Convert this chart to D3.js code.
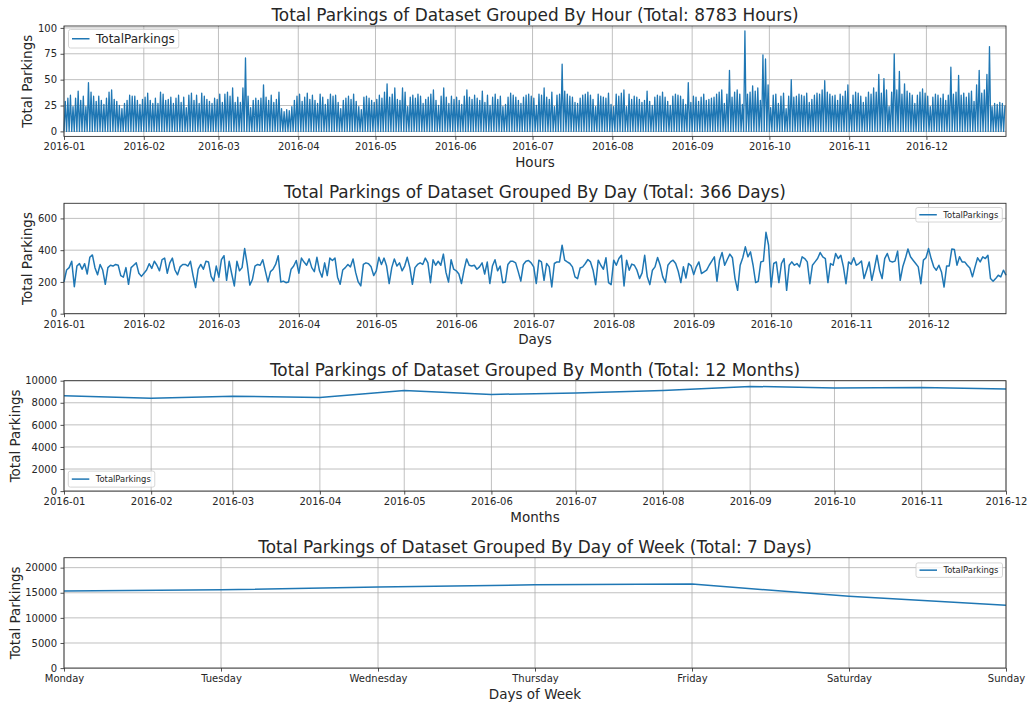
<!DOCTYPE html>
<html>
<head>
<meta charset="utf-8">
<script src="https://cdn.jsdelivr.net/npm/d3@7"></script>
<style>
  body { margin: 0; background: #fff; }
  svg { display: block; font-family: "DejaVu Sans", sans-serif; }
</style>
</head>
<body>
<svg id="chart" width="1028" height="704"></svg>
<script>
// Peak hourly count of each day (the hourly trace drops to ~0 every night)
const hourPeaks = [
  29,32,35,24,32,39,30,34,24,47, 38,34,29,34,30,26,32,38,40,31,
  29,25,22,27,30,35,34,34,30, 26,31,33,37,30,27,32,27,38,36,
  30,31,33,27,32,35,28,33,23,35, 37,30,35,27,37,34,31,29,27,32,
  31,36,28,36,38,34,42,28,33,28, 42,71,34,23,30,32,30,32, 45,
  33,30,35,28,31,38,22,19,21,20,24,30,
  34,36,29,33,37,31,35,30,27,36, 33,26,31,36,34,35,28,22,30,32, 34,31,36,29,24,21,33,34,32,30,
  28,31,35,32,38,46,33,36,42,31, 30,42,38,24,33,35,32,36,34,27, 31,33,36,40,30,25,34,42,33,27,
  34,31,33,30,26,34,40,33,31,35, 32,30,39,28,35,25,33,36,31,34, 24,26,33,37,35,33,30,27,33,35,
  36,34,32,25,36,35,42,33,31,38, 24,35,36,65,39,36,34,33,28,27, 32,35,36,38,35,31,24,36,34,33,
  32,37,26,24,36,34,37,40,24,36, 31,34,33,31,28,30,39,29,25,33, 35,34,38,33,29,25,34,36,35,34,
  31,26,47,28,34,33,29,33,36,30, 31,32,33,36,38,40,27,36,59,33, 38,40,36,26,97,36,38,44,39,42,
  30,74,70,45,23,35,36,27,34,37, 22,34,50,33,34,36,35,34,37,28, 31,35,37,36,40,49,38,36,34,35,
  30,36,34,39,45,26,35,38,37,34, 28,33,38,36,42,38,55,37,51,40, 24,38,75,40,58,36,46,39,37,35,
  27,35,38,41,37,34,24,33,36,35, 32,36,30,35,62,36,38,54,35,37, 33,37,39,29,45,59,37,40,55,82,
  24,27,26,28,27,25
];

// Total parkings per day, 2016-01-01 .. 2016-12-31
const dayTotals = [
  200,275,290,330,170,300,315,280,315,250, 355,370,290,245,310,275,185,290,305,300,
  310,305,240,230,290,185,290,305,320,255, 235,255,275,315,285,330,305,270,340,350,
  255,320,350,275,245,295,310,310,300,330, 240,165,280,310,280,330,325,235,205,300,
  230,340,365,210,330,250,175,330,270,290, 410,310,180,215,300,310,305,340,270,200,
  265,280,310,365,200,205,195,200,280,300,
  335,255,350,325,305,345,290,265,355,270, 230,320,240,350,335,350,230,185,275,290,
  310,295,345,260,200,175,310,320,315,295, 240,270,355,310,350,300,190,290,345,300,
  320,270,300,355,290,185,290,310,320,310, 350,320,195,340,305,330,305,375,260,200,
  340,280,270,250,190,275,345,305,300,305, 280,295,320,250,325,190,300,340,270,300,
  195,200,310,330,330,320,265,205,310,330, 335,320,295,
  190,337,326,210,316,295,168,316,326,326, 431,337,326,316,295,232,221,288,295,316,
  341,326,274,183,337,305,280,352,196,183, 337,305,347,368,175,337,274,312,305,274,
  221,257,368,232,183,274,295,354,305,232, 196,305,326,337,316,267,196,295,225,316,
  301,246,295,326,253,263,274,305,331,358, 204,337,385,305,341,375,352,221,147,305,
  352,421,358,389,305,196,204,326,331,512, 431,
  168,316,326,196,316,347,147,305,326,305, 316,295,358,347,326,189,305,326,347,385,
  358,347,196,316,305,379,347,368,295,189, 326,312,352,305,316,331,221,274,326,210,
  284,368,274,221,347,379,331,326,331,394, 210,295,347,407,358,337,316,295,189,337,
  352,410,347,295,274,305,263,168,301,301, 407,404,305,358,326,326,305,288,232,295,
  352,326,358,347,368,221,204,221,242,232, 274,242
];

const monthTotals = [8640, 8420, 8600, 8480, 9110, 8760, 8880, 9120, 9485, 9333, 9394, 9242];

const weekdays = ["Monday", "Tuesday", "Wednesday", "Thursday", "Friday", "Saturday", "Sunday"];
const weekdayTotals = [15340, 15600, 16130, 16590, 16730, 14290, 12500];

const hourTicks = [0, 25, 50, 75, 100];
const dayTicks = [0, 200, 400, 600];
const monthTicks = [0, 2000, 4000, 6000, 8000, 10000];
const weekTicks = [0, 5000, 10000, 15000, 20000];

const svg = d3.select("#chart");
const L = 64, R = 1006, PH = 110.4;
const tops = [26, 203.3, 380.7, 557.7];
const blue = "#1f77b4";
const ink = "#262626";
const fmtMonth = d3.timeFormat("%Y-%m");

const start = new Date(2016, 0, 1);
const dayEnd = new Date(2016, 11, 31);
const hourEnd = new Date(2016, 11, 31, 22);
const monthStarts = d3.timeMonth.range(start, new Date(2017, 0, 1));

function legend(g, box, fs) {
  const lg = g.append("g");
  const rect = lg.append("rect").attr("rx", 2).attr("ry", 2)
    .attr("fill", "#fff").attr("fill-opacity", 0.8)
    .attr("stroke", "#cccccc").attr("stroke-width", 0.8);
  const txt = lg.append("text").text("TotalParkings")
    .attr("font-size", fs).attr("fill", ink).attr("dy", "0.35em");
  const tw = txt.node().getComputedTextLength();
  const w = 27.5 + tw + 4;
  const x = box.right != null ? box.right - w : box.left;
  const y = box.top != null ? box.top : box.bottom - box.h;
  rect.attr("x", x).attr("y", y).attr("width", w).attr("height", box.h);
  lg.append("line").attr("x1", x + 3.5).attr("x2", x + 21).attr("y1", y + box.h / 2).attr("y2", y + box.h / 2)
    .attr("stroke", blue).attr("stroke-width", 1.5);
  txt.attr("x", x + 27.5).attr("y", y + box.h / 2);
}

function panel(o) {
  const top = o.top, bottom = o.top + PH;
  const g = svg.append("g");

  // grid
  g.append("g").selectAll("line").data(o.xTicks).join("line")
    .attr("x1", d => o.x(d)).attr("x2", d => o.x(d))
    .attr("y1", top).attr("y2", bottom)
    .attr("stroke", "#b0b0b0").attr("stroke-width", 0.8);
  g.append("g").selectAll("line").data(o.yTicks).join("line")
    .attr("x1", L).attr("x2", R)
    .attr("y1", d => o.y(d)).attr("y2", d => o.y(d))
    .attr("stroke", "#b0b0b0").attr("stroke-width", 0.8);

  // axes
  const xa = g.append("g").attr("transform", `translate(0,${bottom})`)
    .call(d3.axisBottom(o.x).tickValues(o.xTicks).tickFormat(o.xFormat).tickSize(3.5).tickPadding(3.5));
  const ya = g.append("g").attr("transform", `translate(${L},0)`)
    .call(d3.axisLeft(o.y).tickValues(o.yTicks).tickFormat(d3.format("d")).tickSize(3.5).tickPadding(3.5));
  [xa, ya].forEach(a => {
    a.attr("font-family", null).attr("font-size", 10);
    a.select(".domain").remove();
    a.selectAll("line").attr("stroke", ink).attr("stroke-width", 0.8);
    a.selectAll("text").attr("fill", ink);
  });

  // data
  o.draw(g);

  // frame
  g.append("rect").attr("x", L).attr("y", top).attr("width", R - L).attr("height", PH)
    .attr("fill", "none").attr("stroke", "#333").attr("stroke-width", 0.9);

  // texts
  g.append("text").attr("x", (L + R) / 2).attr("y", top - 5)
    .attr("text-anchor", "middle").attr("font-size", 16.9).attr("fill", ink).text(o.title);
  g.append("text").attr("x", (L + R) / 2).attr("y", bottom + 30.5)
    .attr("text-anchor", "middle").attr("font-size", 13.5).attr("fill", ink).text(o.xLabel);
  const bb = ya.node().getBBox();
  const lx = L + bb.x - 5.5;
  g.append("text").attr("transform", `translate(${lx},${top + PH / 2}) rotate(-90)`)
    .attr("text-anchor", "middle").attr("font-size", 13.5).attr("fill", ink).text("Total Parkings");

  legend(g, o.legend, o.legendSize);
}

// 1. by hour
{
  const pts = [];
  hourPeaks.forEach((v, i) => {
    pts.push([d3.timeHour.offset(start, i * 24), 0]);
    pts.push([d3.timeHour.offset(start, i * 24 + 12), v]);
  });
  const x = d3.scaleTime().domain([start, hourEnd]).range([L, R]);
  const mx = d3.max(hourPeaks), pad = mx * 0.05;
  const y = d3.scaleLinear().domain([-pad, mx + pad]).range([tops[0] + PH, tops[0]]);
  panel({
    top: tops[0], x, y, xTicks: monthStarts, xFormat: fmtMonth, yTicks: hourTicks,
    title: "Total Parkings of Dataset Grouped By Hour (Total: 8783 Hours)", xLabel: "Hours",
    legend: { left: L + 4.5, top: tops[0] + 3.5, h: 18.5 }, legendSize: 12,
    draw: g => g.append("path").datum(pts)
      .attr("d", d3.line().x(d => x(d[0])).y(d => y(d[1])))
      .attr("fill", "none").attr("stroke", blue).attr("stroke-width", 1.3).attr("stroke-linejoin", "round")
  });
}

// 2. by day
{
  const x = d3.scaleTime().domain([start, dayEnd]).range([L, R]);
  const y = d3.scaleLinear().domain([0, 695]).range([tops[1] + PH, tops[1]]);
  panel({
    top: tops[1], x, y, xTicks: monthStarts, xFormat: fmtMonth, yTicks: dayTicks,
    title: "Total Parkings of Dataset Grouped By Day (Total: 366 Days)", xLabel: "Days",
    legend: { right: R - 3.7, top: tops[1] + 4.2, h: 14.5 }, legendSize: 8.4,
    draw: g => g.append("path").datum(dayTotals)
      .attr("d", d3.line().x((d, i) => x(d3.timeDay.offset(start, i))).y(d => y(d)))
      .attr("fill", "none").attr("stroke", blue).attr("stroke-width", 1.5).attr("stroke-linejoin", "round")
  });
}

// 3. by month
{
  const x = d3.scaleTime().domain([start, monthStarts[11]]).range([L, R]);
  const y = d3.scaleLinear().domain([0, 10000]).range([tops[2] + PH, tops[2]]);
  panel({
    top: tops[2], x, y, xTicks: monthStarts, xFormat: fmtMonth, yTicks: monthTicks,
    title: "Total Parkings of Dataset Grouped By Month (Total: 12 Months)", xLabel: "Months",
    legend: { left: L + 4.3, bottom: tops[2] + PH - 4, h: 16 }, legendSize: 8.4,
    draw: g => g.append("path").datum(monthTotals)
      .attr("d", d3.line().x((d, i) => x(monthStarts[i])).y(d => y(d)))
      .attr("fill", "none").attr("stroke", blue).attr("stroke-width", 1.5)
  });
}

// 4. by day of week
{
  const x = d3.scalePoint().domain(weekdays).range([L, R]);
  const y = d3.scaleLinear().domain([0, 21980]).range([tops[3] + PH, tops[3]]);
  panel({
    top: tops[3], x, y, xTicks: weekdays, xFormat: d => d, yTicks: weekTicks,
    title: "Total Parkings of Dataset Grouped By Day of Week (Total: 7 Days)", xLabel: "Days of Week",
    legend: { right: R - 3.5, top: tops[3] + 5.2, h: 14.5 }, legendSize: 8.4,
    draw: g => g.append("path").datum(weekdayTotals)
      .attr("d", d3.line().x((d, i) => x(weekdays[i])).y(d => y(d)))
      .attr("fill", "none").attr("stroke", blue).attr("stroke-width", 1.5)
  });
}
</script>
</body>
</html>
